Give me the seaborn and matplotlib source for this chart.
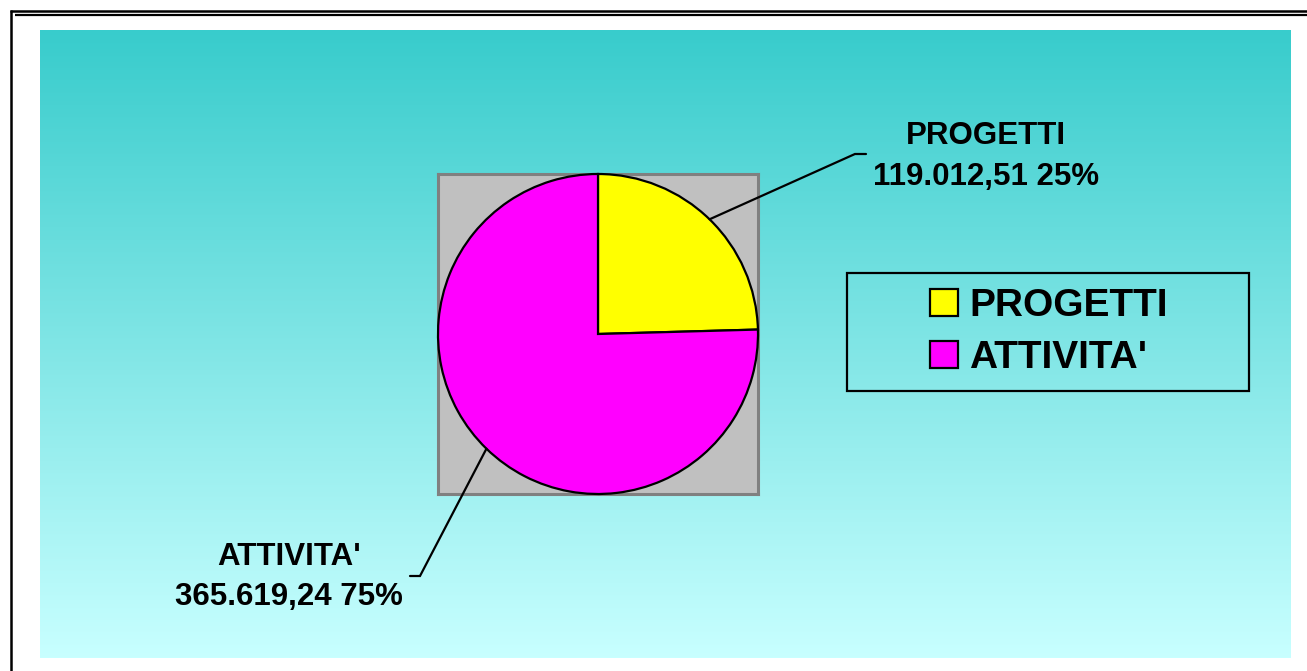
import numpy as np
import matplotlib
matplotlib.use("Agg")
import matplotlib.pyplot as plt
from matplotlib.patches import Rectangle
import seaborn as sns

# ---- data ----
categories = ["PROGETTI", "ATTIVITA'"]
values = [119012.51, 365619.24]
slice_colors = ["#FFFF00", "#FF00FF"]

sns.set_theme(style="white")
plt.rcParams["font.family"] = ["Liberation Sans", "DejaVu Sans"]
plt.rcParams["font.weight"] = "bold"
plt.rcParams["text.color"] = "black"

W, H = 1307, 671
fig = plt.figure(figsize=(W / 100, H / 100), dpi=100)
fig.patch.set_facecolor("white")


def fx(px):
    return px / W


def fy(py):
    return 1 - py / H


# ---- outer frame (overlay in pixel coordinates) ----
ov = fig.add_axes([0, 0, 1, 1], zorder=0)
ov.set_xlim(0, W)
ov.set_ylim(H, 0)
ov.axis("off")
ov.plot([9.5, W], [11, 11], color="black", lw=1.8, solid_capstyle="butt")
ov.plot([15, W], [15, 15], color="black", lw=1.6, solid_capstyle="butt")
ov.plot([10.5, 10.5], [10, H], color="black", lw=1.8, solid_capstyle="butt")

# ---- gradient background ----
bg = fig.add_axes([fx(40), fy(658), fx(1291) - fx(40), fy(30) - fy(658)], zorder=1)
top = np.array([56, 204, 204]) / 255
bot = np.array([200, 255, 255]) / 255
t = np.linspace(0, 1, 256)[:, None]
grad = (top[None, :] * (1 - t) + bot[None, :] * t)[:, None, :]
bg.imshow(grad, aspect="auto", extent=[0, 1, 0, 1], origin="upper")
bg.axis("off")

# ---- pie plot area ----
ax = fig.add_axes([fx(438), fy(494), fx(758) - fx(438), fy(174) - fy(494)], zorder=2)
ax.set_facecolor("#C0C0C0")
wedges, _ = ax.pie(values, colors=slice_colors, startangle=90, counterclock=False,
                   radius=1, frame=True,
                   wedgeprops=dict(edgecolor="black", linewidth=1.6))
for w in wedges:
    w.set_clip_on(False)
ax.set_xlim(-1, 1)
ax.set_ylim(-1, 1)
ax.set_xticks([])
ax.set_yticks([])
for s in ax.spines.values():
    s.set_visible(True)
    s.set_color("#808080")
    s.set_linewidth(2.2)
    s.set_zorder(0.5)

# ---- data labels with leader lines ----
total = sum(values)


def it_num(v):
    s = f"{v:,.2f}"
    return s.replace(",", "X").replace(".", ",").replace("X", ".")


# (elbow, end of horizontal, text x, baseline y line1, baseline y line2) in pie data units
label_layout = [
    ((1.606, 1.125), 1.675, 2.425, 1.1875, 0.931),
    ((-1.1125, -1.5125), -1.175, -1.93, -1.444, -1.694),
]
for w, cat, v, lay in zip(wedges, categories, values, label_layout):
    mid = np.deg2rad((w.theta1 + w.theta2) / 2)
    ex, ey = np.cos(mid), np.sin(mid)
    (bx, by), hx, tx, y1, y2 = lay
    ax.plot([ex, bx, hx], [ey, by, by], color="black", lw=1.6, clip_on=False,
            solid_joinstyle="miter")
    pct = round(v / total * 100)
    ax.text(tx, y1, cat, ha="center", va="baseline", fontsize=22.5,
            fontweight="bold", color="black", clip_on=False)
    ax.text(tx, y2, f"{it_num(v)} {pct}%", ha="center", va="baseline",
            fontsize=22.5, fontweight="bold", color="black", clip_on=False)

# ---- legend ----
ov2 = fig.add_axes([0, 0, 1, 1], zorder=3)
ov2.set_xlim(0, W)
ov2.set_ylim(H, 0)
ov2.axis("off")
ov2.add_patch(Rectangle((847, 273), 1249 - 847, 391 - 273, fill=False,
                        edgecolor="black", lw=1.6))
handles = [Rectangle((0, 0), 1, 1, facecolor=c, edgecolor="black", lw=1.6)
           for c in slice_colors]
leg = fig.legend(handles, categories, loc="center",
                 bbox_to_anchor=(fx(1049), fy(332)), frameon=False,
                 prop=dict(family="Liberation Sans", weight="bold", size=28),
                 handlelength=0.7, handleheight=0.7, handletextpad=0.3,
                 labelspacing=0.4, borderaxespad=0)
for txt in leg.get_texts():
    txt.set_color("black")
leg.set_zorder(4)

fig.savefig("out.png", dpi=100)
